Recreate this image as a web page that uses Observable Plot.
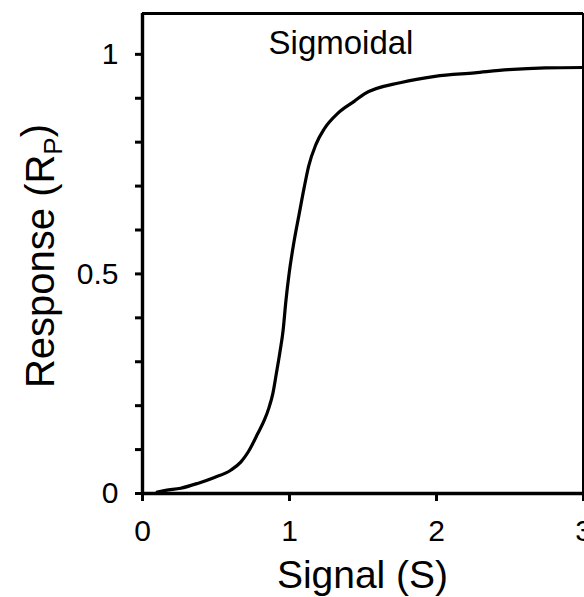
<!DOCTYPE html>
<html>
<head>
<meta charset="utf-8">
<script src="https://cdn.jsdelivr.net/npm/d3@7"></script>
<script src="https://cdn.jsdelivr.net/npm/@observablehq/plot@0.6"></script>
<style>
  html, body { margin: 0; padding: 0; background: #fff; }
  svg { font-family: "Liberation Sans", Arial, Helvetica, sans-serif; }
</style>
</head>
<body>
<div id="chart"></div>
<script>
// Signal (S) values along the curve
const signal = [0.10, 0.157, 0.26, 0.375, 0.485, 0.60, 0.67, 0.72, 0.785, 0.83, 0.86, 0.887, 0.91, 0.935, 0.956, 0.976, 0.997, 1.03, 1.065, 1.10, 1.13, 1.18, 1.236, 1.33, 1.44, 1.51, 1.76, 1.99, 2.26, 2.49, 2.74, 3.0];
// Response (Rp) values
const response = [0.003, 0.007, 0.012, 0.023, 0.036, 0.053, 0.072, 0.095, 0.137, 0.168, 0.195, 0.228, 0.272, 0.322, 0.37, 0.44, 0.50, 0.572, 0.635, 0.697, 0.745, 0.795, 0.830, 0.866, 0.893, 0.910, 0.936, 0.950, 0.958, 0.965, 0.969, 0.970];

const xTicks = [0, 1, 2, 3];
const yTicks = [0, 0.1, 0.2, 0.3, 0.4, 0.5, 0.6, 0.7, 0.8, 0.9, 1.0];
const yLabeled = [0, 0.5, 1];
const xDomain = [0, 3];
const yDomain = [0, 1.093];

const titleText = "Sigmoidal";
const xLabelText = "Signal (S)";
const yLabelMain = "Response (R";
const yLabelSub = "P";
const yLabelEnd = ")";

const data = signal.map((s, i) => ({s, r: response[i]}));

const W = 584, H = 597;
const plot = Plot.plot({
  width: W,
  height: H,
  marginLeft: 142,
  marginRight: 1,
  marginTop: 13,
  marginBottom: 104,
  x: {domain: xDomain},
  y: {domain: yDomain},
  marks: [
    Plot.axisX({ticks: xTicks, tickSize: 8, tickPadding: 18, fontSize: 30, strokeWidth: 3, label: null, tickFormat: d => String(d)}),
    Plot.axisY({ticks: yTicks, tickSize: 7, tickPadding: 17, fontSize: 30, strokeWidth: 3, label: null,
      tickFormat: d => yLabeled.some(v => Math.abs(v - d) < 1e-9) ? String(Math.round(d * 10) / 10) : ""}),
    Plot.ruleX([xDomain[0]], {strokeWidth: 3.4}),
    Plot.ruleY([yDomain[0]], {strokeWidth: 3.4}),
    Plot.ruleX([xDomain[1]], {strokeWidth: 3}),
    Plot.ruleY([yDomain[1]], {strokeWidth: 3}),
    Plot.line(data, {x: "s", y: "r", stroke: "#000", strokeWidth: 3.2, curve: "monotone-x"}),
    Plot.text([titleText], {frameAnchor: "top", dx: -22, dy: 17, lineAnchor: "top", fontSize: 33, fill: "#000"})
  ]
});

const svg = d3.select(plot);
svg.attr("overflow", "visible");
svg.selectAll("g[aria-label='x-axis tick'], g[aria-label='y-axis tick']")
  .attr("stroke-width", 3)
  .selectAll("path").attr("stroke-width", 3);
// x axis label
svg.append("text")
  .attr("x", 362.5).attr("y", 588)
  .attr("text-anchor", "middle")
  .attr("font-size", 39)
  .attr("fill", "#000")
  .text(xLabelText);
// y axis label with subscript
const yl = svg.append("text")
  .attr("transform", "translate(54,256) rotate(-90)")
  .attr("text-anchor", "middle")
  .attr("font-size", 40)
  .attr("fill", "#000");
yl.append("tspan").text(yLabelMain);
yl.append("tspan").attr("font-size", 26).attr("dy", "0.3em").text(yLabelSub);
yl.append("tspan").attr("dy", "-0.3em").text(yLabelEnd);

document.getElementById("chart").appendChild(plot);
</script>
</body>
</html>
